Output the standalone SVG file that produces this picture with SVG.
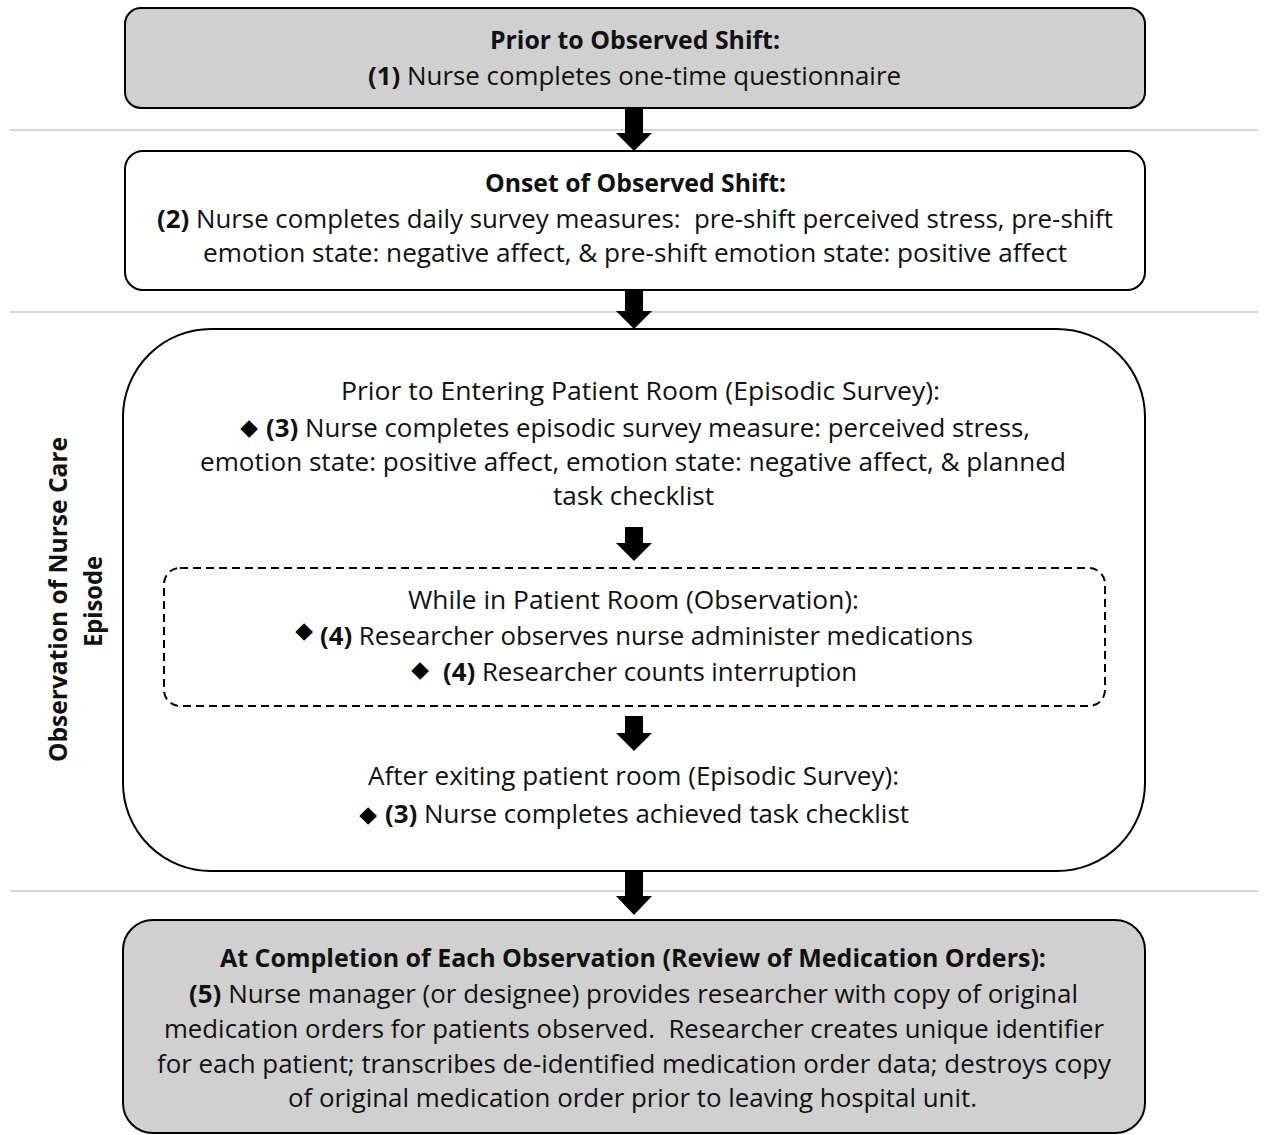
<svg xmlns="http://www.w3.org/2000/svg" width="1264" height="1135" viewBox="0 0 1264 1135">
  <style>
    .t { font-family: "Open Sans", "Noto Sans", "DejaVu Sans", sans-serif; font-size: 25px; fill: #111; white-space: pre; }
    .b { font-weight: 700; }
    .bullet { font-family: "DejaVu Sans", sans-serif; font-size: 23px; fill: #000; text-anchor: middle; dominant-baseline: central; }
    .box { stroke: #000; stroke-width: 2; }
    .gray { fill: #d1d0d1; }
    .white { fill: #fff; }
    .dash { fill: none; stroke: #000; stroke-width: 2; stroke-dasharray: 8 5; }
    .divider { stroke: #c9c9c9; stroke-width: 1.5; }
    .arrow { fill: #000; }
  </style>

  <rect width="1264" height="1135" fill="#fff"/>

  <!-- phase separators -->
  <g id="dividers">
    <line class="divider" x1="10" y1="130" x2="1258" y2="130"/>
    <line class="divider" x1="10" y1="312" x2="1258" y2="312"/>
    <line class="divider" x1="10" y1="891" x2="1258" y2="891"/>
  </g>

  <g id="node-prior-shift">
    <rect class="box gray" x="125" y="8" width="1020" height="100" rx="16"/>
    <text class="t b" x="490" y="49" textLength="290" lengthAdjust="spacingAndGlyphs">Prior to Observed Shift:</text>
    <text class="t" x="368" y="85" textLength="533" lengthAdjust="spacingAndGlyphs"><tspan class="b">(1)</tspan> Nurse completes one-time questionnaire</text>
  </g>

  <g id="node-onset-shift">
    <rect class="box white" x="125" y="151" width="1020" height="139" rx="18"/>
    <text class="t b" x="485" y="192" textLength="301" lengthAdjust="spacingAndGlyphs">Onset of Observed Shift:</text>
    <text class="t" x="157" y="228" textLength="956" lengthAdjust="spacingAndGlyphs"><tspan class="b">(2)</tspan> Nurse completes daily survey measures:  pre-shift perceived stress, pre-shift</text>
    <text class="t" x="203" y="262" textLength="864" lengthAdjust="spacingAndGlyphs">emotion state: negative affect, &amp; pre-shift emotion state: positive affect</text>
  </g>

  <g id="node-care-episode">
    <rect class="box white" x="123" y="329" width="1022" height="542" rx="88"/>
    <text class="t b" transform="translate(67,599.5) rotate(-90)" text-anchor="middle" textLength="325" lengthAdjust="spacingAndGlyphs">Observation of Nurse Care</text>
    <text class="t b" transform="translate(102,601.5) rotate(-90)" text-anchor="middle" textLength="91" lengthAdjust="spacingAndGlyphs">Episode</text>

    <text class="t" x="341" y="400" textLength="599" lengthAdjust="spacingAndGlyphs">Prior to Entering Patient Room (Episodic Survey):</text>
    <text class="bullet" x="249" y="427">◆</text>
    <text class="t" x="266" y="437" textLength="764" lengthAdjust="spacingAndGlyphs"><tspan class="b">(3)</tspan> Nurse completes episodic survey measure: perceived stress,</text>
    <text class="t" x="200" y="471" textLength="866" lengthAdjust="spacingAndGlyphs">emotion state: positive affect, emotion state: negative affect, &amp; planned</text>
    <text class="t" x="553" y="505" textLength="161" lengthAdjust="spacingAndGlyphs">task checklist</text>

    <text class="t" x="368" y="785" textLength="531" lengthAdjust="spacingAndGlyphs">After exiting patient room (Episodic Survey):</text>
    <text class="bullet" x="368" y="814">◆</text>
    <text class="t" x="385" y="823" textLength="524" lengthAdjust="spacingAndGlyphs"><tspan class="b">(3)</tspan> Nurse completes achieved task checklist</text>
  </g>

  <g id="node-patient-room">
    <rect class="dash" x="164" y="568" width="941" height="138" rx="16"/>
    <text class="t" x="408" y="609" textLength="451" lengthAdjust="spacingAndGlyphs">While in Patient Room (Observation):</text>
    <text class="bullet" x="304" y="630">◆</text>
    <text class="t" x="320" y="645" textLength="653" lengthAdjust="spacingAndGlyphs"><tspan class="b">(4)</tspan> Researcher observes nurse administer medications</text>
    <text class="bullet" x="420" y="669">◆</text>
    <text class="t" x="443" y="681" textLength="414" lengthAdjust="spacingAndGlyphs"><tspan class="b">(4)</tspan> Researcher counts interruption</text>
  </g>

  <g id="node-completion">
    <rect class="box gray" x="123" y="920" width="1022" height="213" rx="30"/>
    <text class="t b" x="220" y="967" textLength="826" lengthAdjust="spacingAndGlyphs">At Completion of Each Observation (Review of Medication Orders):</text>
    <text class="t" x="189" y="1003" textLength="889" lengthAdjust="spacingAndGlyphs"><tspan class="b">(5)</tspan> Nurse manager (or designee) provides researcher with copy of original</text>
    <text class="t" x="164" y="1038" textLength="940" lengthAdjust="spacingAndGlyphs">medication orders for patients observed.  Researcher creates unique identifier</text>
    <text class="t" x="157" y="1073" textLength="954" lengthAdjust="spacingAndGlyphs">for each patient; transcribes de-identified medication order data; destroys copy</text>
    <text class="t" x="288" y="1107" textLength="689" lengthAdjust="spacingAndGlyphs">of original medication order prior to leaving hospital unit.</text>
  </g>

  <!-- block arrows between stages, drawn over the boxes -->
  <g id="connectors">
    <polygon class="arrow" points="625,108 643,108 643,133 652,133 634,151 616,133 625,133"/>
    <polygon class="arrow" points="625,290 643,290 643,311 652,311 634,329 616,311 625,311"/>
    <polygon class="arrow" points="625,527 643,527 643,543 652,543 634,561 616,543 625,543"/>
    <polygon class="arrow" points="625,716 643,716 643,733 652,733 634,751 616,733 625,733"/>
    <polygon class="arrow" points="625,871 643,871 643,896 652,896 634,915 616,896 625,896"/>
  </g>
</svg>
